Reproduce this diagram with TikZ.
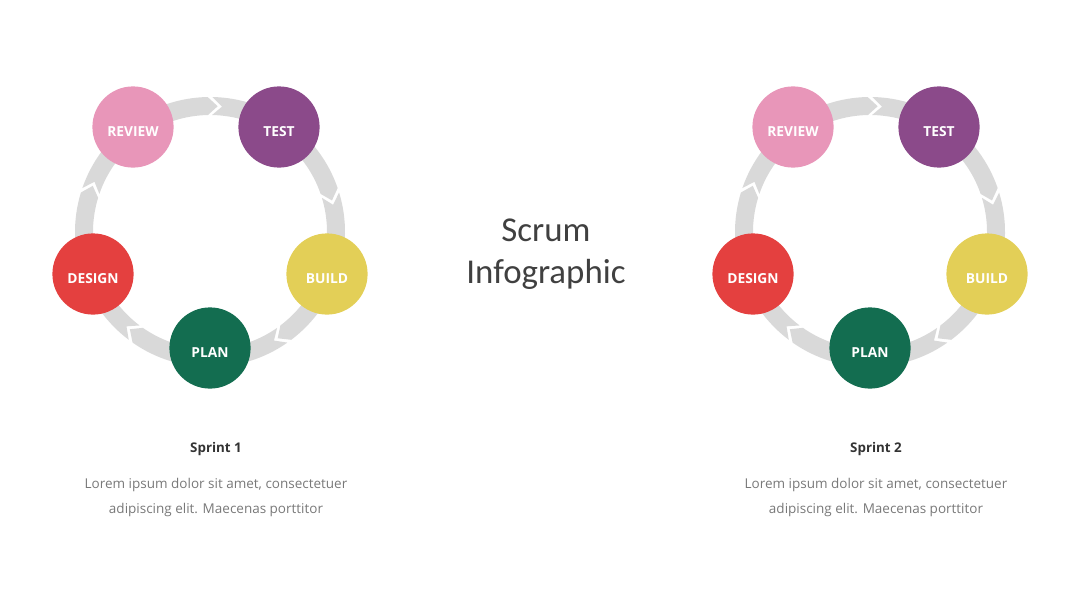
\documentclass[tikz,border=0pt]{standalone}
\usepackage{fontspec}
\setmainfont{Open Sans}
\newfontfamily\titlefont{Carlito}
\usepackage{tikz}
\usetikzlibrary{positioning}
\usepackage{xcolor}
\definecolor{ScrumPink}{RGB}{232,150,185}
\definecolor{ScrumPurple}{RGB}{139,74,138}
\definecolor{ScrumYellow}{RGB}{227,207,87}
\definecolor{ScrumGreen}{RGB}{19,109,80}
\definecolor{ScrumRed}{RGB}{228,64,63}
\definecolor{RingGray}{RGB}{217,217,217}
\definecolor{TitleGray}{RGB}{64,64,64}
\definecolor{TextGray}{RGB}{120,120,120}

\begin{document}
\begin{tikzpicture}[
  phase/.style={circle,minimum size=2.03cm,inner sep=0pt,text=white,
                text height=13pt,text depth=0pt,
                font=\fontsize{9.8}{11}\selectfont\bfseries},
  ring/.style={fill=RingGray,draw=none},
  sprint/.style={font=\fontsize{9.5}{11}\selectfont\bfseries,text=black!80},
  blurb/.style={font=\fontsize{9.6}{17.5}\selectfont,text=TextGray,align=center},
]
\useasboundingbox (0,0) rectangle (27,15.2);
% chevron ring --- five arrows per sprint, clockwise
\foreach \cx in {5.25,21.75}
  \foreach \a in {270,342,54,126,198}
    \fill[ring,shift={(\cx,9.4)}]
      ({\a+35}:3.375) arc[start angle=\a+35,end angle=\a-35,radius=3.375]
      -- ({\a-39.5}:3.15) -- ({\a-35}:2.925)
      arc[start angle=\a-35,end angle=\a+35,radius=2.925]
      -- ({\a+30.5}:3.15) -- cycle;
% Sprint 1 --- stages
\begin{scope}[shift={(5.25,9.4)}]
\node[phase,fill=ScrumGreen]  (plan1)   at (0,-2.9)        {PLAN};
\node[phase,fill=ScrumYellow] (build1)  at (2.925,-1.05)   {BUILD};
\node[phase,fill=ScrumPurple] (test1)   at (1.725,2.625)   {TEST};
\node[phase,fill=ScrumPink]   (review1) at (-1.925,2.625)  {REVIEW};
\node[phase,fill=ScrumRed]    (design1) at (-2.925,-1.05)  {DESIGN};
\end{scope}
% Sprint 2 --- stages
\begin{scope}[shift={(21.75,9.4)}]
\node[phase,fill=ScrumGreen]  (plan2)   at (0,-2.9)        {PLAN};
\node[phase,fill=ScrumYellow] (build2)  at (2.925,-1.05)   {BUILD};
\node[phase,fill=ScrumPurple] (test2)   at (1.725,2.625)   {TEST};
\node[phase,fill=ScrumPink]   (review2) at (-1.925,2.625)  {REVIEW};
\node[phase,fill=ScrumRed]    (design2) at (-2.925,-1.05)  {DESIGN};
\end{scope}
% title
\node[align=center,text=TitleGray,
      font=\titlefont\fontsize{24.8}{30}\selectfont] (title) at (13.65,8.85)
  {Scrum\\Infographic};
% captions
\node[sprint] (sp1) at (5.4,3.98) {Sprint 1};
\node[blurb,below=0.33cm of sp1] (txt1)
  {Lorem ipsum dolor sit amet, consectetuer\\adipiscing elit. Maecenas porttitor};
\node[sprint] (sp2) at (21.9,3.98) {Sprint 2};
\node[blurb,below=0.33cm of sp2] (txt2)
  {Lorem ipsum dolor sit amet, consectetuer\\adipiscing elit. Maecenas porttitor};
\end{tikzpicture}
\end{document}
